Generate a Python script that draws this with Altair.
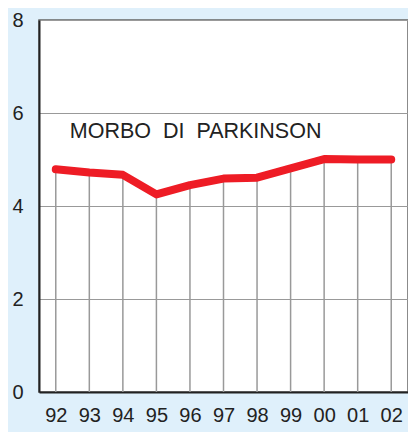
import altair as alt
import pandas as pd

years = ["92", "93", "94", "95", "96", "97", "98", "99", "00", "01", "02"]
values = [4.79, 4.72, 4.67, 4.25, 4.45, 4.59, 4.61, 4.81, 5.01, 5.0, 5.0]
y_ticks = [0, 2, 4, 6, 8]
label_text = "MORBO\u00a0\u00a0DI\u00a0\u00a0PARKINSON"

df = pd.DataFrame({"year": years, "value": values})
ann = pd.DataFrame({"year": [years[0]], "value": [5.6], "text": [label_text]})

xscale = alt.Scale(type="point", padding=0.5, domain=years)
yscale = alt.Scale(domain=[0, 8], nice=False)

x_axis = alt.Axis(grid=False, ticks=False, domain=True, domainColor="#222", domainWidth=2,
                  labelFontSize=20, labelPadding=13, labelColor="#222", labelAngle=0,
                  labelOverlap=False, labelFont="Liberation Sans", title=None)
y_axis = alt.Axis(values=y_ticks, grid=True, gridColor="#999", gridWidth=1.2,
                  ticks=False, domain=True, domainColor="#222", domainWidth=2,
                  labelFontSize=20, labelPadding=16, labelColor="#222",
                  labelOverlap=False, labelFont="Liberation Sans", title=None)

rules = alt.Chart(df).mark_rule(color="#999", strokeWidth=1.5).encode(
    x=alt.X("year:O", scale=xscale, axis=x_axis, sort=years),
    y=alt.Y("value:Q", scale=yscale, axis=y_axis),
    y2=alt.datum(0),
)

line = alt.Chart(df).mark_line(color="#ee1c25", strokeWidth=8, strokeCap="round",
                               strokeJoin="round").encode(
    x=alt.X("year:O", scale=xscale, sort=years),
    y=alt.Y("value:Q", scale=yscale),
)

text = alt.Chart(ann).mark_text(align="left", baseline="middle", fontSize=21.5, dx=14,
                                font="Liberation Sans", color="#222").encode(
    x=alt.X("year:O", scale=xscale, sort=years),
    y=alt.Y("value:Q", scale=yscale),
    text="text:N",
)

chart = alt.layer(rules, line, text).properties(
    width=369, height=372,
    background="#dff0fb",
    padding={"left": 31, "top": 12, "right": 0, "bottom": 40},
    autosize=alt.AutoSizeParams(type="none"),
).configure_view(stroke="#666", strokeWidth=1.5, fill="white")

chart.save("out.html", embed_options={"renderer": "svg", "actions": False})
